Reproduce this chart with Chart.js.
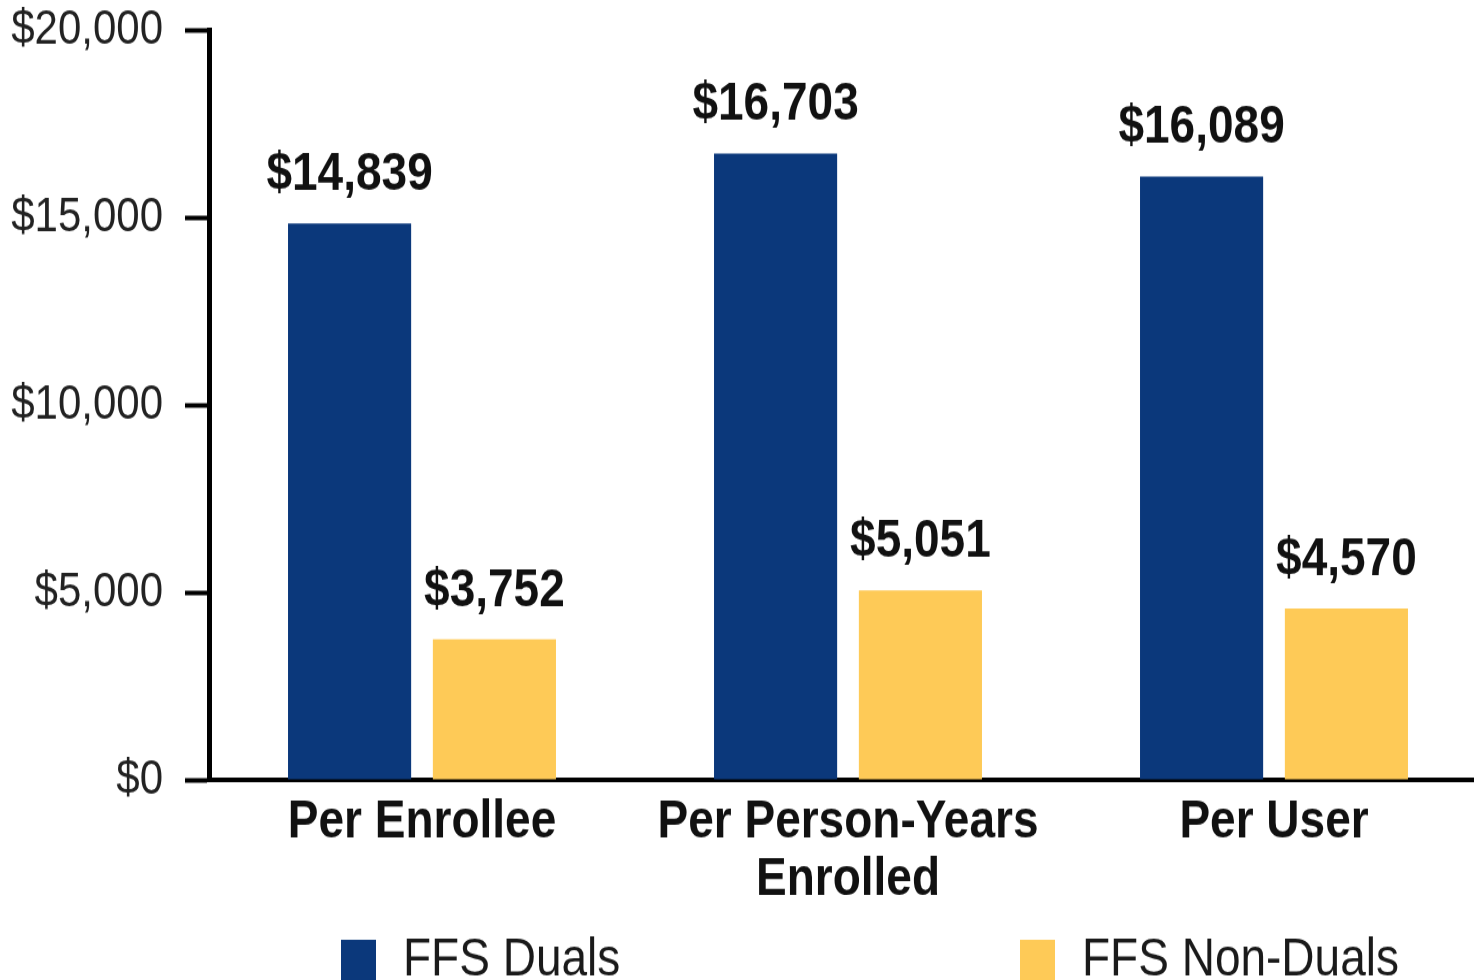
<!DOCTYPE html>
<html>
<head>
<meta charset="utf-8">
<script src="https://cdn.jsdelivr.net/npm/chart.js@4.4.1/dist/chart.umd.min.js"></script>
<style>
  html, body { margin: 0; padding: 0; background: #fff; overflow: hidden; width: 1474px; height: 980px; }
  #c { display: block; }
</style>
</head>
<body>
<canvas id="c" width="1490" height="852" style="width:1490px;height:980px;"></canvas>
<script>
const categories = [['Per Enrollee'], ['Per Person-Years', 'Enrolled'], ['Per User']];
const seriesNames = ['FFS Duals', 'FFS Non-Duals'];
const dualsValues = [14839, 16703, 16089];
const nonDualsValues = [3752, 5051, 4570];
const yTickValues = [0, 5000, 10000, 15000, 20000];
const yTickLabels = ['$0', '$5,000', '$10,000', '$15,000', '$20,000'];

const FONT = '"Liberation Sans", Arial, sans-serif';
const BLUE = '#0B387B';
const GOLD = '#FECA57';

const valueLabels = {
  id: 'valueLabels',
  afterDatasetsDraw(chart) {
    const ctx = chart.ctx;
    ctx.save();
    ctx.font = 'bold 46px ' + FONT;
    ctx.fillStyle = '#111';
    ctx.textAlign = 'center';
    ctx.textBaseline = 'alphabetic';
    chart.data.datasets.forEach((ds, di) => {
      chart.getDatasetMeta(di).data.forEach((el, i) => {
        ctx.fillText('$' + ds.data[i].toLocaleString('en-US'), el.x, el.y - 29);
      });
    });
    ctx.restore();
  }
};

const bottomLegend = {
  id: 'bottomLegend',
  afterDraw(chart) {
    const ctx = chart.ctx;
    const boxX = [341, 1020];
    const boxY = 817, box = 35;
    ctx.save();
    ctx.font = '46px ' + FONT;
    ctx.textAlign = 'left';
    ctx.textBaseline = 'middle';
    chart.data.datasets.forEach((ds, di) => {
      ctx.fillStyle = ds.backgroundColor;
      ctx.fillRect(boxX[di], boxY, box, box);
      ctx.fillStyle = '#1a1a1a';
      ctx.fillText(ds.label, boxX[di] + 62, boxY + box / 2 + 1);
    });
    ctx.restore();
  }
};

new Chart(document.getElementById('c'), {
  type: 'bar',
  data: {
    labels: categories,
    datasets: [
      { label: seriesNames[0], data: dualsValues, backgroundColor: BLUE },
      { label: seriesNames[1], data: nonDualsValues, backgroundColor: GOLD }
    ]
  },
  options: {
    responsive: false,
    animation: false,
    devicePixelRatio: 1,
    layout: { padding: { top: 26, right: 3, bottom: 0, left: 0 } },
    datasets: { bar: { categoryPercentage: 0.68, barPercentage: 0.85 } },
    plugins: { legend: { display: false }, tooltip: { enabled: false } },
    scales: {
      x: {
        z: 1,
        grid: { display: false, drawTicks: false },
        border: { display: true, color: '#000', width: 4 },
        ticks: {
          padding: 12,
          color: '#111',
          font: { family: FONT, size: 46, weight: 'bold', lineHeight: 1.087 }
        },
        afterFit(scale) { scale.height = 174; }
      },
      y: {
        min: 0,
        max: 20000,
        afterBuildTicks(scale) { scale.ticks = yTickValues.map(v => ({ value: v })); },
        grid: { display: true, drawOnChartArea: false, drawTicks: true, tickLength: 24, tickColor: '#000', tickWidth: 4 },
        border: { display: true, color: '#000', width: 5 },
        ticks: {
          padding: 22,
          color: '#222',
          font: { family: FONT, size: 42 },
          callback(v) { const i = yTickValues.indexOf(v); return i >= 0 ? yTickLabels[i] : ''; }
        },
        afterFit(scale) { scale.width = 209; scale.paddingTop = 0; scale.paddingBottom = 0; }
      }
    }
  },
  plugins: [valueLabels, bottomLegend]
});
</script>
</body>
</html>
